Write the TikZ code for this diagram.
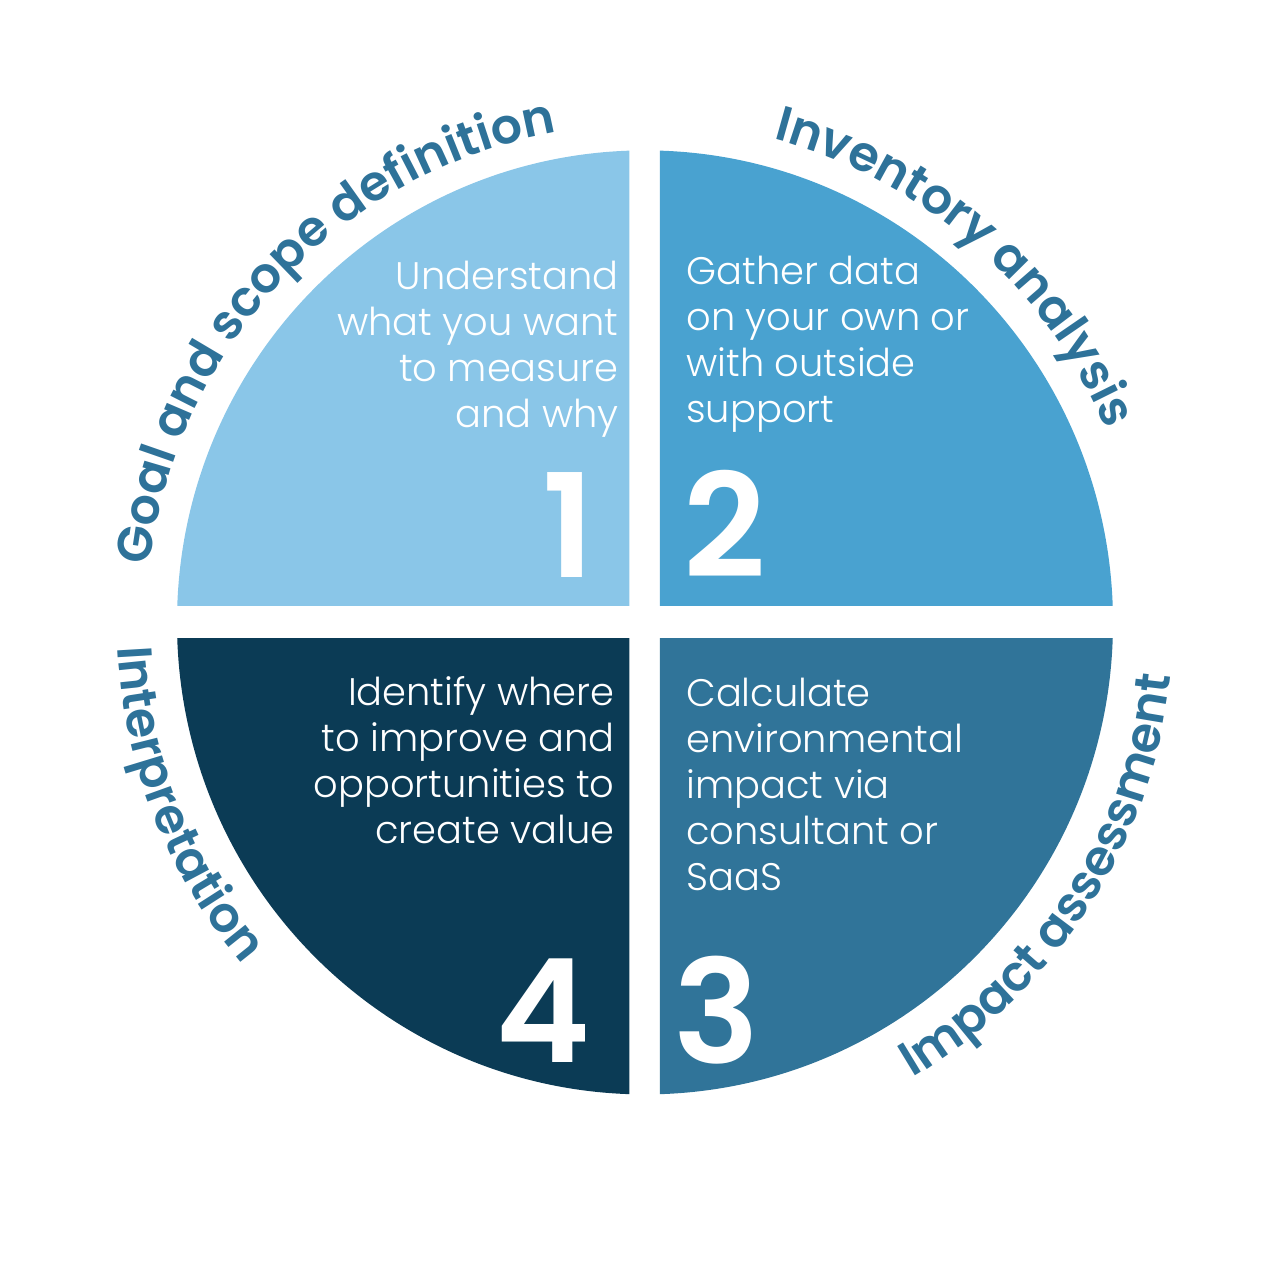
\documentclass[tikz,border=0pt]{standalone}
\usepackage{fontspec}
\setmainfont{Poppins}
\IfFontExistsTF{Poppins SemiBold}{\newfontfamily\semib{Poppins SemiBold}}{\newcommand\semib{\bfseries}}
\IfFontExistsTF{Poppins Light}{\newfontfamily\lightf{Poppins Light}}{\newcommand\lightf{}}
\usetikzlibrary{decorations.text}
\definecolor{qone}{HTML}{8AC6E8}
\definecolor{qtwo}{HTML}{49A2D0}
\definecolor{qthree}{HTML}{307499}
\definecolor{qfour}{HTML}{0B3B55}
\definecolor{lab}{HTML}{2E7299}
\newcommand\labfont{\fontsize{24.5}{24.5}\selectfont\semib}
\tikzset{
  body/.style={text=white, inner sep=0pt, font=\lightf\fontsize{19.2}{23}\selectfont},
  numtxt/.style={text=white, inner sep=0pt, font=\semib\fontsize{72}{72}\selectfont},
  curvelab/.style={decorate, decoration={text along path, text align=center, text color=lab, text={|\labfont|#1}}}
}
\begin{document}
\begin{tikzpicture}[x=0.5pt,y=0.5pt]
\useasboundingbox (-645,-657.6) rectangle (635,622.4);
% quadrants
\begin{scope}
  \clip (-700,16.7) rectangle (-15.5,700);
  \fill[qone] (0,0) ellipse [x radius=234pt, y radius=236pt];
\end{scope}
\begin{scope}
  \clip (15,16.7) rectangle (700,700);
  \fill[qtwo] (0,0) ellipse [x radius=234pt, y radius=236pt];
\end{scope}
\begin{scope}
  \clip (15,-16.3) rectangle (700,-700);
  \fill[qthree] (0,0) ellipse [x radius=234pt, y radius=236pt];
\end{scope}
\begin{scope}
  \clip (-700,-16.3) rectangle (-15.5,-700);
  \fill[qfour] (0,0) ellipse [x radius=234pt, y radius=236pt];
\end{scope}
% body texts (anchor at baseline of last line)
\node[body, align=right, anchor=base east] (t1) at (-26,194.4) {Understand\\what you want\\to measure\\and why};
\node[body, align=left, anchor=base west] (t2) at (41,199.4) {Gather data\\on your own or\\with outside\\support};
\node[body, align=left, anchor=base west] (t3) at (41,-267.6) {Calculate\\environmental\\impact via\\consultant or\\SaaS};
\node[body, align=right, anchor=base east] (t4) at (-30,-220.6) {Identify where\\to improve and\\opportunities to\\create value};
% numbers
\node[numtxt, anchor=base east] (n1) at (-50,45.4) {1};
\node[numtxt, anchor=base west] (n2) at (38,45.4) {2};
\node[numtxt, anchor=base west] (n3) at (28,-440.6) {3};
\node[numtxt, anchor=base east] (n4) at (-54,-439.6) {4};
% curved labels
\path[curvelab={Goal and scope definition}] (196.8:249pt) arc[start angle=196.8, end angle=76.8, radius=249pt];
\path[curvelab={Inventory analysis}] (108.9:250pt) arc[start angle=108.9, end angle=-11.1, radius=250pt];
\path[curvelab={Impact assessment}] (-92.7:264pt) arc[start angle=-92.7, end angle=27.3, radius=264pt];
\path[curvelab={Interpretation}] (141.5:264pt) arc[start angle=141.5, end angle=261.5, radius=264pt];
\end{tikzpicture}
\end{document}
